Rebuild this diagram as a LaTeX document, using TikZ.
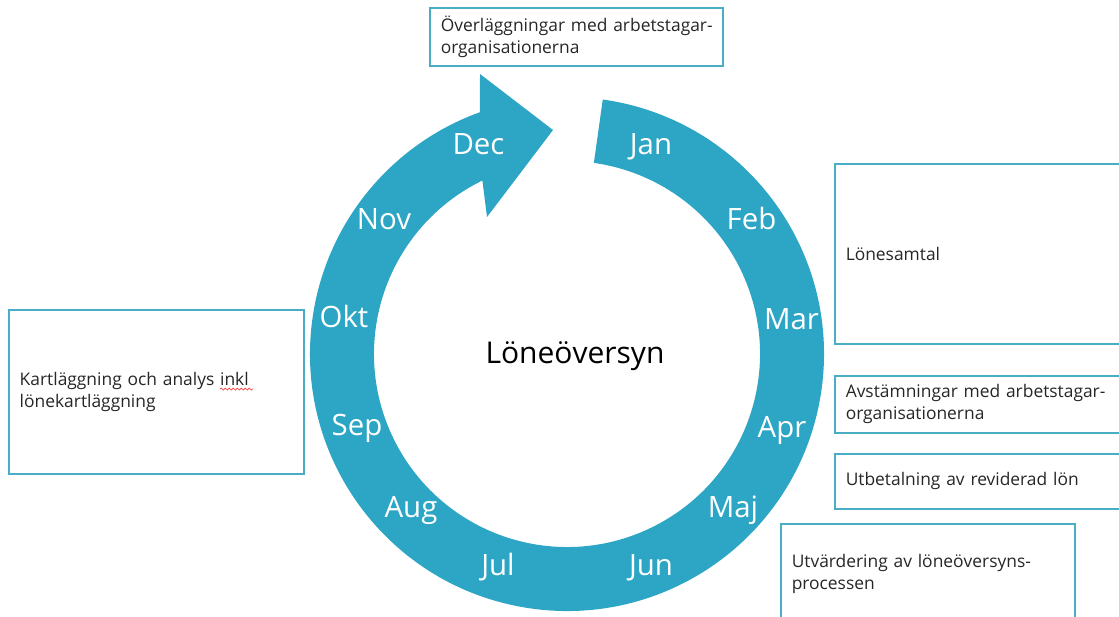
\documentclass[tikz,border=0pt]{standalone}
\usepackage{fontspec}
\setmainfont{Open Sans}
\usetikzlibrary{calc,decorations.pathmorphing}
\definecolor{ringblue}{RGB}{45,166,197}
\definecolor{edgeblue}{RGB}{75,172,198}
\begin{document}
\begin{tikzpicture}[x=1pt,y=1pt,
  box/.style={draw=edgeblue, line width=1.5pt, anchor=north west, inner xsep=11pt, inner ysep=0pt,
    align=left, text=black!85, font=\fontsize{17.4}{22}\selectfont},
  month/.style={anchor=base, text=white, font=\fontsize{29.4}{32}\selectfont, inner sep=0pt},
  squiggle/.style={draw=red!80, line width=0.7pt, decorate, decoration={snake, segment length=4pt, amplitude=1pt}}]
\useasboundingbox (0,0) rectangle (1119,-616);
\clip (0,0) rectangle (1119,-616);
% ring arrow
\coordinate (C) at (567,-354);
\coordinate (headtop) at (480,-74);
\coordinate (tip) at (553,-130);
\coordinate (headbot) at (487,-217);
\fill[ringblue] ($(C)+(82:257)$) arc[start angle=82, end angle=-250.2, radius=257pt]
  -- (headtop) -- (tip) -- (headbot) -- ($(C)+(116:193)$)
  arc[start angle=-244, end angle=82, radius=193pt] -- cycle;
% months
\node[month] (jan) at (651,-154) {Jan};
\node[month] (feb) at (751.5,-229) {Feb};
\node[month] (mar) at (791.5,-329) {Mar};
\node[month] (apr) at (782,-437) {Apr};
\node[month] (maj) at (733,-517) {Maj};
\node[month] (jun) at (651,-575) {Jun};
\node[month] (jul) at (498,-575) {Jul};
\node[month] (aug) at (411,-517) {Aug};
\node[month] (sep) at (357,-435) {Sep};
\node[month] (okt) at (344,-327) {Okt};
\node[month] (nov) at (384,-229) {Nov};
\node[month] (dec) at (478.5,-154) {Dec};
% centre title
\node[anchor=base, inner sep=0pt, font=\fontsize{30}{36}\selectfont] (title) at (575,-363) {Löneöversyn};
% boxes
\node[box, minimum width=293pt, minimum height=58pt, text width=271pt] (b1) at (429,-7)
  {\mbox{Överläggningar med arbetstagar-}\\organisationerna};
\node[box, minimum width=330pt, minimum height=180pt, text width=308pt] (b2) at (834,-163)
  {Lönesamtal};
\node[box, minimum width=330pt, minimum height=57pt, text width=308pt] (b3) at (834,-375)
  {\mbox{Avstämningar med arbetstagar-}\\organisationerna};
\node[box, minimum width=330pt, minimum height=55pt, text width=308pt] (b4) at (834,-453)
  {Utbetalning av reviderad lön};
\node[box, minimum width=294pt, minimum height=100pt, text width=272pt] (b5) at (780,-523)
  {\mbox{Utvärdering av löneöversyns-}\\processen};
\node[box, minimum width=295pt, minimum height=164pt, text width=273pt] (b6) at (8,-309)
  {Kartläggning och analys inkl\\lönekartläggning};
\coordinate (sqa) at (220,-389);
\coordinate (sqb) at (253,-389);
\draw[squiggle] (sqa) -- (sqb);
\end{tikzpicture}
\end{document}
